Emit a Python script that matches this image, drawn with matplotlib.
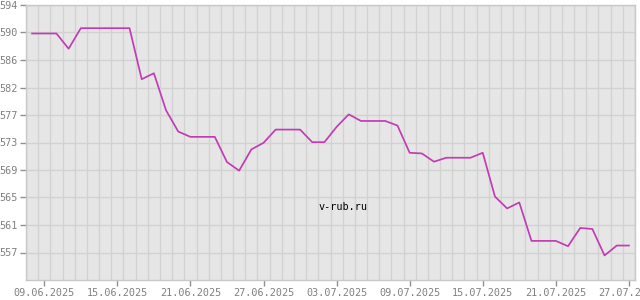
import numpy as np
import matplotlib
matplotlib.use("Agg")
import matplotlib.pyplot as plt
import matplotlib.dates as mdates
from matplotlib.ticker import FixedLocator, FixedFormatter

start_date = np.datetime64("2025-06-08")
values = [590.2, 590.2, 590.2, 587.9, 591.0, 591.0, 591.0, 591.0, 591.0, 583.3,
          584.2, 578.6, 575.4, 574.6, 574.6, 574.6, 570.8, 569.5, 572.7, 573.7,
          575.7, 575.7, 575.7, 573.8, 573.8, 576.1, 578.0, 577.0, 577.0, 577.0,
          576.3, 572.2, 572.1, 570.85, 571.45, 571.45, 571.45, 572.2, 565.6, 563.8,
          564.7, 558.9, 558.9, 558.9, 558.1, 560.85, 560.7, 556.7, 558.2, 558.2]
dates = start_date + np.arange(len(values)).astype("timedelta64[D]")

y_min, y_max = 553.0, 594.5
y_tick_labels = ["557", "561", "565", "569", "573", "577", "582", "586", "590", "594"]
x_tick_labels = ["09.06.2025", "15.06.2025", "21.06.2025", "27.06.2025", "03.07.2025",
                 "09.07.2025", "15.07.2025", "21.07.2025", "27.07.2025"]

fig = plt.figure(figsize=(6.4, 3.0), dpi=100)
ax = fig.add_axes([26/640, 20/300, 609/640, 275/300])
ax.set_facecolor("#e6e6e6")

xnum = mdates.date2num(dates.astype("datetime64[s]").astype(object))
ax.plot(xnum, values, color="#c23cb4", lw=1.25, solid_joinstyle="round")

ax.set_xlim(xnum[0] - 0.5, xnum[-1] + 0.5)
ax.set_ylim(y_min, y_max)

step = (y_max - y_min) / 10
yt = [y_min + step * (k + 1) for k in range(10)]
ax.yaxis.set_major_locator(FixedLocator(yt))
ax.yaxis.set_major_formatter(FixedFormatter(y_tick_labels))

xt_dates = [np.datetime64(f"{s[6:10]}-{s[3:5]}-{s[0:2]}") for s in x_tick_labels]
xt = mdates.date2num([d.astype("datetime64[s]").astype(object) for d in xt_dates])
ax.xaxis.set_major_locator(FixedLocator(xt))
ax.xaxis.set_major_formatter(FixedFormatter(x_tick_labels))
minor = np.arange(xnum[0] - 0.5, xnum[-1] + 0.51, 1.0)
ax.xaxis.set_minor_locator(FixedLocator(minor))

ax.grid(True, axis="y", which="major", color="#d2d2d2", lw=1.0)
ax.grid(True, axis="x", which="minor", color="#d2d2d2", lw=1.0)
ax.set_axisbelow(True)
ax.tick_params(axis="x", which="minor", length=0)
ax.tick_params(axis="both", which="major", length=4, width=1, color="#909090",
               labelcolor="#808080", labelsize=7.3, pad=2)
for lab in ax.get_xticklabels() + ax.get_yticklabels():
    lab.set_family("DejaVu Sans Mono")
for sp in ax.spines.values():
    sp.set_color("#c8c8c8")
    sp.set_linewidth(1.0)

ax.text(0.52, 0.265, "v-rub.ru", transform=ax.transAxes, ha="center", va="center",
        family="DejaVu Sans Mono", fontsize=7.3, color="#000000")

fig.savefig("out.png", dpi=100)
